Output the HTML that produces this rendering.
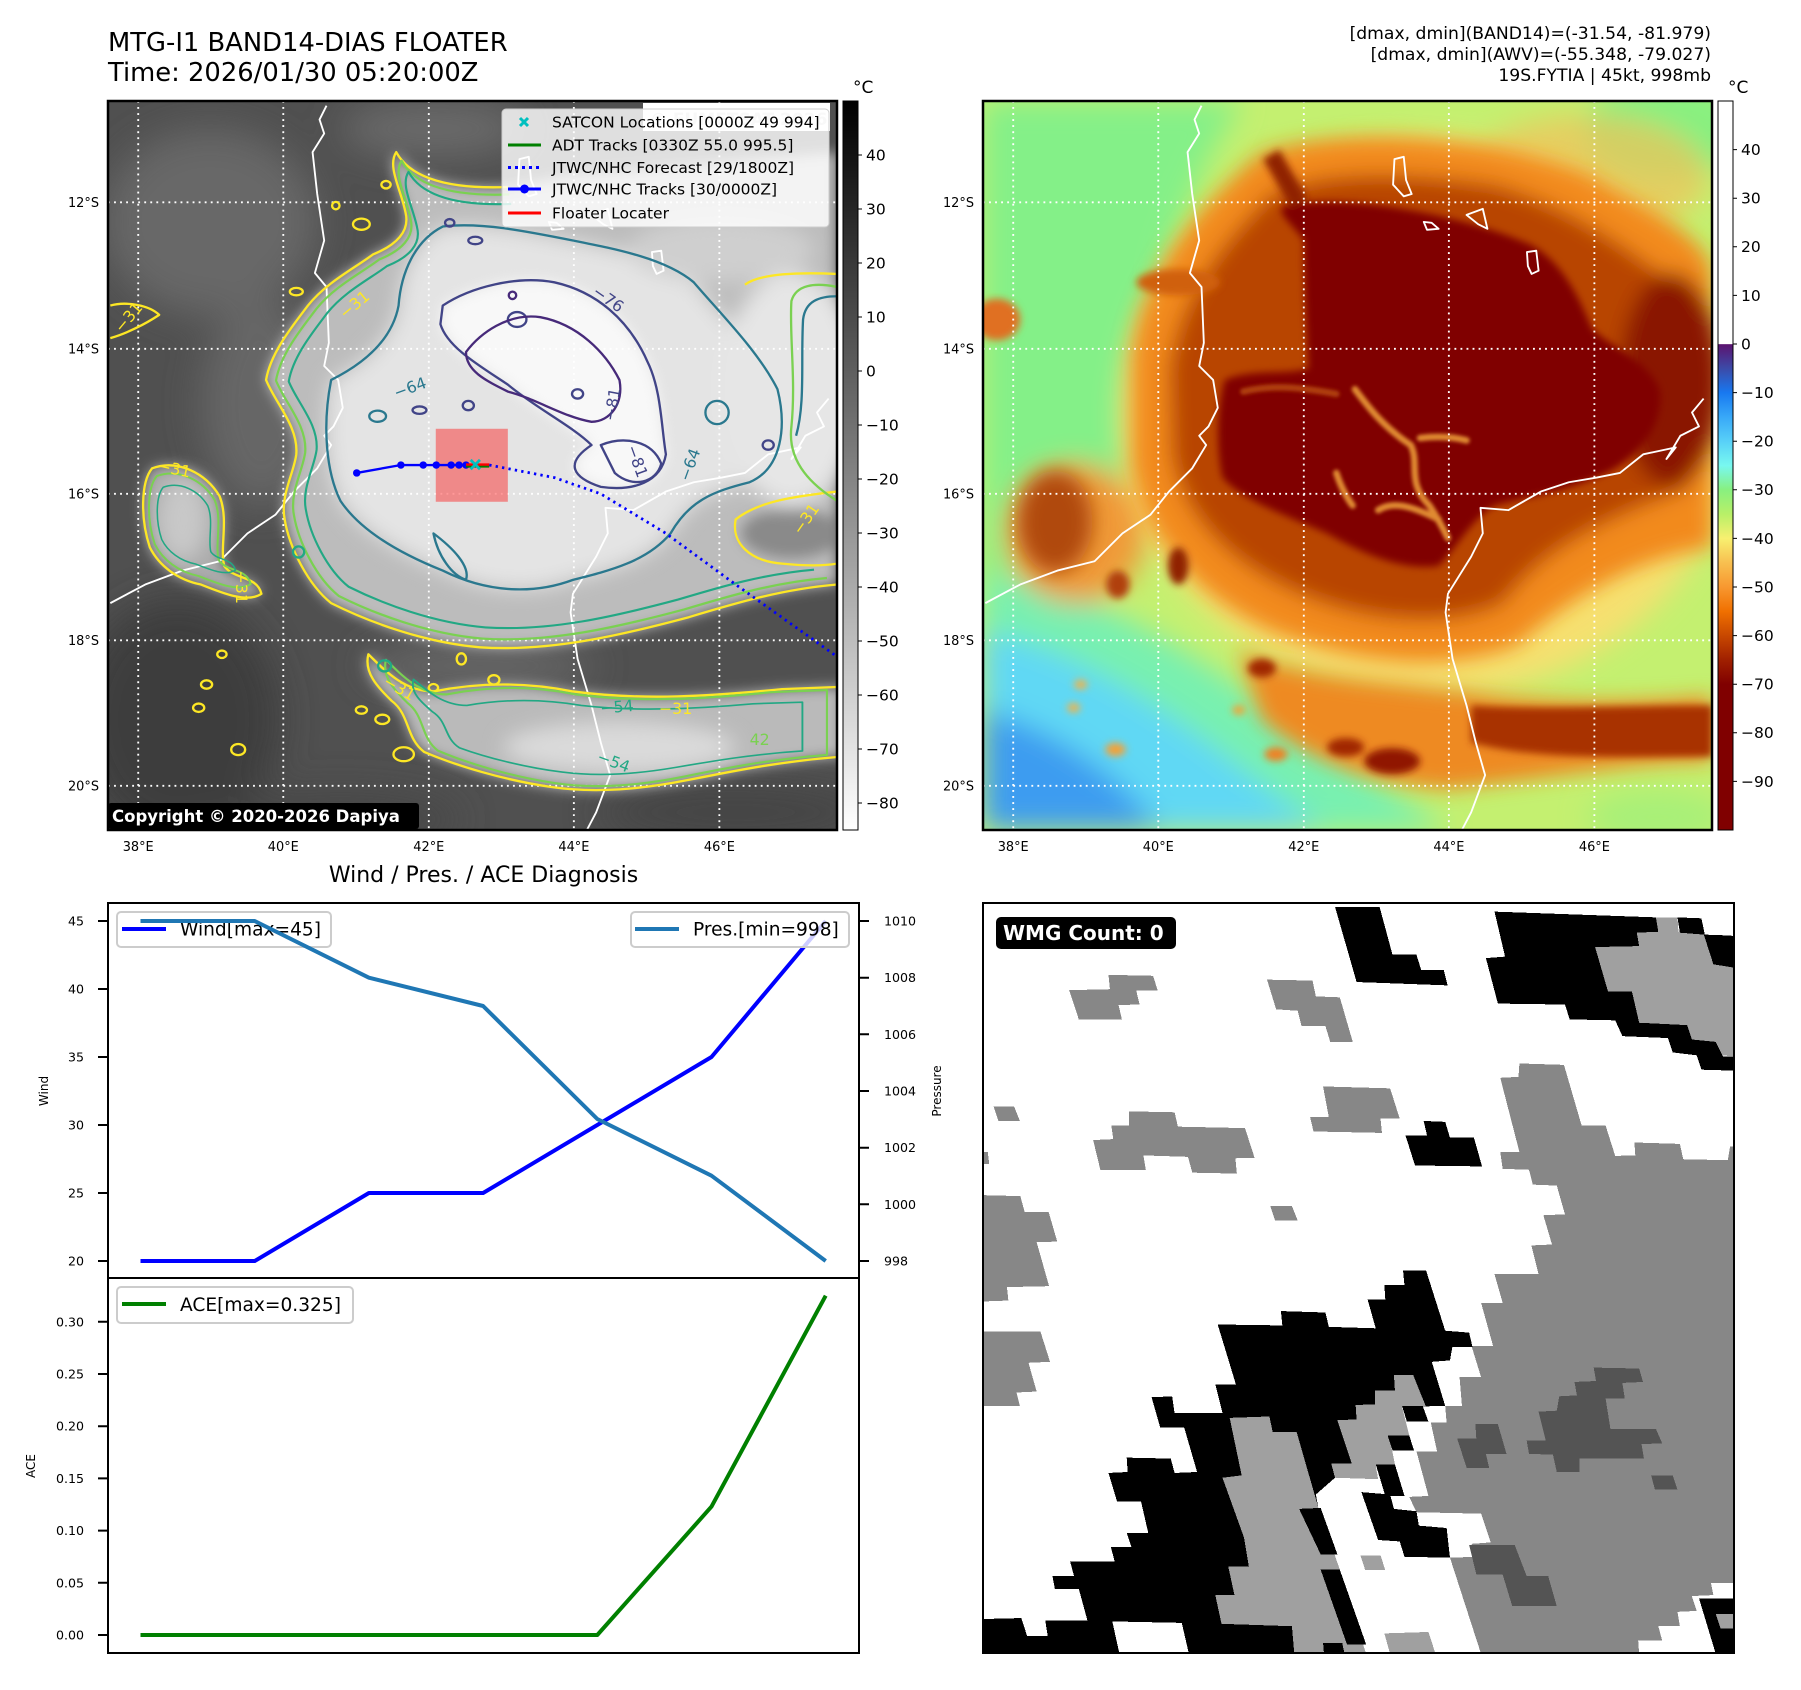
<!DOCTYPE html>
<html><head><meta charset="utf-8">
<style>
html,body{margin:0;padding:0;background:#fff;}
svg{display:block;}
text{font-family:"DejaVu Sans","Liberation Sans",sans-serif;}
</style></head>
<body>
<svg width="1801" height="1690" viewBox="0 0 1801 1690" xmlns="http://www.w3.org/2000/svg">
<defs>
 <linearGradient id="gcb" x1="0" y1="0" x2="0" y2="1">
  <stop offset="0" stop-color="#000"/><stop offset="1" stop-color="#fff"/>
 </linearGradient>
 <linearGradient id="ccb" x1="0" y1="0" x2="0" y2="1">
  <stop offset="0" stop-color="#fff"/>
  <stop offset="0.333" stop-color="#fff"/>
  <stop offset="0.334" stop-color="#5c1470"/>
  <stop offset="0.3667" stop-color="#3c4aa8"/>
  <stop offset="0.40" stop-color="#1878f0"/>
  <stop offset="0.4333" stop-color="#38a8f8"/>
  <stop offset="0.4667" stop-color="#58d0f8"/>
  <stop offset="0.50" stop-color="#78f8f0"/>
  <stop offset="0.5333" stop-color="#88f080"/>
  <stop offset="0.5667" stop-color="#b8f068"/>
  <stop offset="0.60" stop-color="#f8f070"/>
  <stop offset="0.6333" stop-color="#f8c050"/>
  <stop offset="0.6667" stop-color="#f89830"/>
  <stop offset="0.70" stop-color="#f07000"/>
  <stop offset="0.7333" stop-color="#c84800"/>
  <stop offset="0.7667" stop-color="#a02000"/>
  <stop offset="0.80" stop-color="#800000"/>
  <stop offset="1" stop-color="#800000"/>
 </linearGradient>
 <filter id="b40" filterUnits="userSpaceOnUse" x="-400" y="-400" width="2400" height="2400"><feGaussianBlur stdDeviation="40"/></filter>
 <filter id="b30" filterUnits="userSpaceOnUse" x="-400" y="-400" width="2400" height="2400"><feGaussianBlur stdDeviation="30"/></filter>
 <filter id="b22" filterUnits="userSpaceOnUse" x="-400" y="-400" width="2400" height="2400"><feGaussianBlur stdDeviation="22"/></filter>
 <filter id="b14" filterUnits="userSpaceOnUse" x="-400" y="-400" width="2400" height="2400"><feGaussianBlur stdDeviation="14"/></filter>
 <filter id="b8" filterUnits="userSpaceOnUse" x="-400" y="-400" width="2400" height="2400"><feGaussianBlur stdDeviation="8"/></filter>
 <filter id="b4" filterUnits="userSpaceOnUse" x="-400" y="-400" width="2400" height="2400"><feGaussianBlur stdDeviation="4"/></filter>
 <path id="P31" d="M620,110 C650,165 730,190 860,185 L1000,160 L1568,110 L1568,1040 C1450,1050 1350,1080 1250,1110 C1100,1150 950,1185 800,1175 C680,1165 560,1120 480,1080 C430,1040 390,960 380,900 C370,850 400,800 405,760 C410,700 360,650 340,600 C350,540 400,480 430,440 C470,390 530,360 570,330 C620,310 650,280 640,240 C630,190 600,140 620,110 Z"/>
 <path id="P31s" d="M1568,1040 C1450,1050 1350,1080 1250,1110 C1100,1150 950,1185 800,1175 C680,1165 560,1120 480,1080 C430,1040 390,960 380,900 C370,850 400,800 405,760 C410,700 360,650 340,600 C350,540 400,480 430,440 C470,390 530,360 570,330 C620,310 650,280 640,240 C630,190 600,140 620,110 C650,165 730,190 860,185"/>
 <path id="ISL" d="M95,790 C150,770 210,800 240,850 C260,900 240,960 250,1000 C270,1030 320,1020 330,1060 C300,1080 250,1060 200,1040 C150,1030 110,1000 90,960 C70,900 70,820 95,790 Z"/>
 <path id="BAND" d="M560,1190 C600,1230 640,1270 700,1270 C800,1250 900,1250 1000,1270 C1150,1290 1300,1280 1450,1265 L1580,1260 L1580,1410 C1450,1420 1350,1440 1250,1460 C1150,1480 1050,1490 950,1475 C850,1460 750,1430 680,1400 C640,1370 650,1320 610,1290 C580,1260 550,1230 560,1190 Z"/>
 <path id="P64" d="M480,600 C540,570 610,520 625,440 C630,370 660,300 720,270 C800,260 900,280 1000,300 C1100,320 1200,340 1260,390 C1320,460 1400,540 1440,620 C1460,700 1450,790 1380,820 C1300,840 1250,860 1210,930 C1160,990 1080,1010 1000,1030 C920,1060 820,1060 720,1010 C620,970 540,920 500,860 C470,800 460,700 480,600 Z"/>
 <path id="P76" d="M720,440 C780,400 880,375 960,390 C1050,410 1120,470 1160,560 C1190,620 1190,700 1200,760 C1190,820 1130,840 1060,830 C1000,810 980,780 1040,740 C1000,700 920,660 860,610 C800,570 730,530 715,480 Z"/>
 <path id="P81" d="M770,540 C800,500 860,455 930,465 C1010,480 1070,540 1100,600 C1110,650 1080,690 1040,690 C980,680 920,640 860,625 C810,600 770,580 770,540 Z"/>
 <path id="COAST1" d="M470,10 L455,40 L465,70 L440,110 L450,200 L465,300 L445,370 L470,400 L475,520 L465,570 L495,600 L505,660 L485,700 L465,720 L480,740 L450,790 L400,840 L360,890 L300,930 L240,990 L160,1010 L80,1040 L5,1080"/>
 <path id="COAST2" d="M1550,640 L1525,670 L1540,700 L1500,720 L1470,770 L1490,745 L1420,760 L1370,800 L1320,810 L1260,820 L1200,840 L1130,880 L1070,875 L1075,930 L1050,980 L1000,1060 L995,1100 L1010,1200 L1040,1300 L1060,1380 L1080,1450 L1050,1530 L1030,1568"/>
 <g id="ISLANDS">
  <path d="M885,125 L905,120 L910,170 L922,200 L905,205 L882,180 Z"/>
  <path d="M948,260 L965,262 L980,275 L955,277 Z"/>
  <path d="M1040,245 L1075,232 L1085,275 L1065,265 Z"/>
  <path d="M1170,325 L1190,322 L1195,365 L1180,372 L1172,355 Z"/>
 </g>
 <g id="GRID">
  <path d="M65,0 V1568 M377,0 V1568 M690,0 V1568 M1002,0 V1568 M1315,0 V1568 M0,218 H1568 M0,533 H1568 M0,845 H1568 M0,1160 H1568 M0,1473 H1568" stroke="#fff" stroke-width="4" stroke-dasharray="4 9" fill="none"/>
 </g>
</defs>

<!-- Header text -->
<text x="108" y="51" font-size="25.8" fill="#000">MTG-I1 BAND14-DIAS FLOATER</text>
<text x="108" y="81" font-size="25.8" fill="#000">Time: 2026/01/30 05:20:00Z</text>
<text x="1711" y="39" font-size="17.2" text-anchor="end">[dmax, dmin](BAND14)=(-31.54, -81.979)</text>
<text x="1711" y="60" font-size="17.2" text-anchor="end">[dmax, dmin](AWV)=(-55.348, -79.027)</text>
<text x="1711" y="81" font-size="17.2" text-anchor="end">19S.FYTIA | 45kt, 998mb</text>

<!-- LEFT MAP -->
<svg x="108" y="101" width="729" height="729" viewBox="0 0 1568 1568">
 <rect width="1568" height="1568" fill="#505050"/>
 <g filter="url(#b40)">
  <ellipse cx="220" cy="260" rx="230" ry="200" fill="#686868"/>
  <ellipse cx="330" cy="650" rx="130" ry="220" fill="#666"/>
  <ellipse cx="700" cy="60" rx="200" ry="60" fill="#6a6a6a"/>
  <ellipse cx="150" cy="1330" rx="220" ry="260" fill="#3e3e3e"/>
  <ellipse cx="500" cy="1545" rx="260" ry="60" fill="#474747"/>
  <ellipse cx="1350" cy="1530" rx="300" ry="60" fill="#444"/>
  <ellipse cx="800" cy="1215" rx="250" ry="40" fill="#6a6a6a"/>
 </g>
 <g filter="url(#b14)">
  <use href="#P31" fill="#bcbcbc"/>
  <use href="#ISL" fill="#ababab"/>
  <use href="#BAND" fill="#bababa"/>
  <ellipse cx="1470" cy="930" rx="110" ry="55" fill="#8a8a8a"/>
 </g>
 <g filter="url(#b22)">
  <use href="#P64" fill="#e4e4e4"/>
  <ellipse cx="1470" cy="620" rx="150" ry="250" fill="#e6e6e6"/>
  <ellipse cx="1320" cy="320" rx="200" ry="70" fill="#cfcfcf"/>
  <ellipse cx="1100" cy="1390" rx="250" ry="55" fill="#dadada"/>
  <ellipse cx="160" cy="900" rx="55" ry="90" fill="#c8c8c8"/>
 </g>
 <g filter="url(#b14)">
  <use href="#P76" fill="#f8f8f8"/>
 </g>
 <use href="#GRID"/>
 <g fill="none" stroke="#fff" stroke-width="4" stroke-linejoin="round">
  <use href="#COAST1"/><use href="#COAST2"/><use href="#ISLANDS"/>
 </g>
 <!-- contours -->
 <g fill="none" stroke-width="5" stroke-linejoin="round">
  <g stroke="#fde725">
   <use href="#P31s"/><use href="#ISL"/><use href="#BAND"/>
   <path d="M1568,372 C1480,368 1400,372 1370,395"/>
   <path d="M1568,840 C1480,850 1400,860 1350,900 C1340,950 1380,990 1450,995 C1500,1000 1540,1000 1568,995"/>
   <ellipse cx="245" cy="1190" rx="10" ry="8"/><ellipse cx="212" cy="1255" rx="12" ry="9"/>
   <ellipse cx="195" cy="1305" rx="12" ry="9"/><ellipse cx="280" cy="1395" rx="15" ry="12"/>
   <ellipse cx="545" cy="1310" rx="12" ry="8"/><ellipse cx="590" cy="1330" rx="15" ry="10"/>
   <ellipse cx="636" cy="1405" rx="22" ry="15"/><ellipse cx="700" cy="1262" rx="10" ry="8"/>
   <ellipse cx="760" cy="1200" rx="10" ry="12"/><ellipse cx="830" cy="1245" rx="12" ry="10"/>
   <ellipse cx="598" cy="180" rx="10" ry="8"/><ellipse cx="545" cy="265" rx="18" ry="12"/>
   <ellipse cx="490" cy="225" rx="8" ry="8"/><ellipse cx="405" cy="410" rx="14" ry="8"/>
   <path d="M5,440 C40,430 90,440 110,460 C80,480 40,500 5,510"/>
  </g>
  <g stroke="#7ad151">
   <use href="#P31s" transform="translate(950 640) scale(0.965) translate(-950 -640)"/>
   <use href="#ISL" transform="translate(165 910) scale(0.86) translate(-165 -910)"/>
   <use href="#BAND" transform="translate(1100 1360) scale(0.93) translate(-1100 -1360)"/>
   <path d="M1568,400 C1520,390 1480,395 1470,430 C1465,500 1480,600 1470,700 C1460,780 1520,830 1568,860"/>
  </g>
  <g stroke="#22a884">
   <use href="#P31s" transform="translate(950 640) scale(0.92) translate(-950 -640)"/>
   <use href="#ISL" transform="translate(165 910) scale(0.66) translate(-165 -910)"/>
   <use href="#BAND" transform="translate(1100 1370) scale(0.82 0.7) translate(-1100 -1370)"/>
   <ellipse cx="595" cy="1215" rx="14" ry="12"/>
   <ellipse cx="410" cy="970" rx="12" ry="12"/>
  </g>
  <g stroke="#2a788e">
   <use href="#P64"/>
   <path d="M1568,420 C1530,420 1500,430 1495,470 C1490,560 1500,650 1480,720"/>
   <ellipse cx="580" cy="678" rx="18" ry="12"/>
   <ellipse cx="1310" cy="670" rx="25" ry="25"/>
   <path d="M700,930 C740,960 780,1000 770,1030 C740,1020 710,980 700,930 Z"/>
  </g>
  <g stroke="#414487">
   <use href="#P76"/>
   <path d="M1060,740 C1110,720 1170,730 1190,780 C1180,820 1130,835 1090,800 Z"/>
   <ellipse cx="735" cy="262" rx="10" ry="8"/><ellipse cx="790" cy="300" rx="15" ry="8"/>
   <ellipse cx="880" cy="470" rx="20" ry="16"/>
   <ellipse cx="670" cy="665" rx="15" ry="8"/><ellipse cx="775" cy="655" rx="12" ry="10"/>
   <ellipse cx="1010" cy="630" rx="12" ry="10"/>
   <ellipse cx="1420" cy="740" rx="12" ry="10"/>
  </g>
  <g stroke="#472a7a">
   <use href="#P81"/>
   <ellipse cx="870" cy="418" rx="8" ry="8"/>
  </g>
 </g>
 <!-- contour labels -->
 <g font-size="34">
  <text x="510" y="470" fill="#fde725" transform="rotate(-40 510 470)">−31</text>
  <text x="30" y="500" fill="#fde725" transform="rotate(-50 30 500)">−31</text>
  <text x="105" y="795" fill="#fde725" transform="rotate(12 105 795)">−31</text>
  <text x="1490" y="935" fill="#fde725" transform="rotate(-55 1490 935)">−31</text>
  <text x="590" y="1255" fill="#fde725" transform="rotate(30 590 1255)">−31</text>
  <text x="1185" y="1318" fill="#fde725">−31</text>
  <text x="275" y="1010" fill="#fde725" transform="rotate(90 275 1010)">−31</text>
  <text x="1040" y="415" fill="#414487" transform="rotate(35 1040 415)">−76</text>
  <text x="1090" y="690" fill="#414487" transform="rotate(-80 1090 690)">−81</text>
  <text x="1115" y="745" fill="#414487" transform="rotate(70 1115 745)">−81</text>
  <text x="620" y="640" fill="#2a788e" transform="rotate(-20 620 640)">−64</text>
  <text x="1250" y="820" fill="#2a788e" transform="rotate(-70 1250 820)">−64</text>
  <text x="1060" y="1318" fill="#22a884" transform="rotate(-5 1060 1318)">−54</text>
  <text x="1050" y="1420" fill="#22a884" transform="rotate(20 1050 1420)">−54</text>
  <text x="1380" y="1385" fill="#7ad151">42</text>
 </g>
 <!-- track -->
 <rect x="705" y="705" width="155" height="157" fill="#ff0000" fill-opacity="0.4"/>
 <polyline points="820,783 960,810 1060,845 1200,930 1350,1040 1568,1195" fill="none" stroke="#0000ff" stroke-width="6" stroke-dasharray="5 9"/>
 <polyline points="535,800 630,783 678,783 706,783 738,783 755,783 770,783" fill="none" stroke="#0000ff" stroke-width="5"/>
 <g fill="#0000ff">
  <circle cx="535" cy="800" r="8"/><circle cx="630" cy="783" r="8"/><circle cx="678" cy="783" r="8"/>
  <circle cx="706" cy="783" r="8"/><circle cx="738" cy="783" r="8"/><circle cx="755" cy="783" r="8"/><circle cx="770" cy="783" r="8"/>
 </g>
 <line x1="770" y1="786" x2="820" y2="786" stroke="#008000" stroke-width="5"/>
 <line x1="770" y1="782" x2="820" y2="782" stroke="#ff0000" stroke-width="5"/>
 <path d="M780,772 L800,792 M800,772 L780,792" stroke="#00bfbf" stroke-width="6"/>
</svg>
<rect x="108" y="101" width="729" height="729" fill="none" stroke="#000" stroke-width="2.5"/>

<!-- EUMETSAT box + legend -->
<rect x="643" y="103" width="187" height="28" fill="#fff"/>
<text x="650" y="125" font-size="17" font-weight="bold" fill="#d8d8d8">© EUMETSAT 2026</text>
<rect x="502" y="109" width="327" height="118" rx="4" fill="#fff" fill-opacity="0.82" stroke="#cccccc" stroke-width="1"/>
<path d="M520,118 L528,126 M528,118 L520,126" stroke="#00bfbf" stroke-width="3"/>
<text x="552" y="127.5" font-size="15.5">SATCON Locations [0000Z 49 994]</text>
<line x1="508" y1="145" x2="541" y2="145" stroke="#008000" stroke-width="3"/>
<text x="552" y="150.5" font-size="15.5">ADT Tracks [0330Z 55.0 995.5]</text>
<line x1="508" y1="167.5" x2="541" y2="167.5" stroke="#0000ff" stroke-width="3" stroke-dasharray="3 4"/>
<text x="552" y="173" font-size="15.5">JTWC/NHC Forecast [29/1800Z]</text>
<line x1="508" y1="189" x2="541" y2="189" stroke="#0000ff" stroke-width="3"/>
<circle cx="524.5" cy="189" r="4.5" fill="#0000ff"/>
<text x="552" y="194.5" font-size="15.5">JTWC/NHC Tracks [30/0000Z]</text>
<line x1="508" y1="213" x2="541" y2="213" stroke="#ff0000" stroke-width="3"/>
<text x="552" y="218.5" font-size="15.5">Floater Locater</text>

<!-- copyright -->
<rect x="108" y="803" width="311" height="26" rx="3" fill="#000"/>
<text x="112" y="822" font-size="16.5" font-weight="bold" fill="#fff">Copyright © 2020-2026 Dapiya</text>

<!-- map ticks -->
<g font-size="12.9" text-anchor="end">
 <text x="99" y="207">12°S</text><text x="99" y="353.4">14°S</text><text x="99" y="498.4">16°S</text>
 <text x="99" y="645">18°S</text><text x="99" y="790.4">20°S</text>
 <text x="974" y="207">12°S</text><text x="974" y="353.4">14°S</text><text x="974" y="498.4">16°S</text>
 <text x="974" y="645">18°S</text><text x="974" y="790.4">20°S</text>
</g>
<g font-size="12.9" text-anchor="middle">
 <text x="138.2" y="851">38°E</text><text x="283.3" y="851">40°E</text><text x="428.8" y="851">42°E</text>
 <text x="573.9" y="851">44°E</text><text x="719.4" y="851">46°E</text>
 <text x="1013.2" y="851">38°E</text><text x="1158.3" y="851">40°E</text><text x="1303.8" y="851">42°E</text>
 <text x="1448.9" y="851">44°E</text><text x="1594.4" y="851">46°E</text>
</g>

<!-- left colorbar -->
<rect x="843" y="101" width="15" height="729" fill="url(#gcb)" stroke="#000" stroke-width="1"/>
<text x="853" y="93" font-size="17">°C</text>
<g font-size="15.5">
 <text x="866" y="160.5">40</text><text x="866" y="214.5">30</text><text x="866" y="268.5">20</text>
 <text x="866" y="322.5">10</text><text x="866" y="376.5">0</text><text x="866" y="430.5">−10</text>
 <text x="866" y="484.5">−20</text><text x="866" y="538.5">−30</text><text x="866" y="592.5">−40</text>
 <text x="866" y="646.5">−50</text><text x="866" y="700.5">−60</text><text x="866" y="754.5">−70</text>
 <text x="866" y="808.5">−80</text>
</g>
<path d="M858,155h4M858,209h4M858,263h4M858,317h4M858,371h4M858,425h4M858,479h4M858,533h4M858,587h4M858,641h4M858,695h4M858,749h4M858,803h4" stroke="#000" stroke-width="1"/>

<!-- RIGHT MAP -->
<svg x="983" y="101" width="729" height="729" viewBox="0 0 1568 1568">
 <rect width="1568" height="1568" fill="#c4f070"/>
 <g filter="url(#b30)">
  <path d="M0,0 L560,0 C480,120 420,250 380,400 C360,550 360,700 330,800 C250,900 150,980 0,1040 Z" fill="#84f088"/>
  <ellipse cx="1470" cy="60" rx="180" ry="110" fill="#88f080"/>
  <path d="M0,1020 C250,1040 500,1220 700,1370 C850,1470 950,1530 1000,1568 L0,1568 Z" fill="#78f0b0"/>
  <path d="M0,1140 C200,1180 400,1310 560,1440 C650,1510 700,1545 740,1568 L0,1568 Z" fill="#60d8f4"/>
  <path d="M0,1310 C150,1350 300,1450 380,1568 L0,1568 Z" fill="#3c9cf0"/>
  <ellipse cx="1450" cy="1540" rx="150" ry="60" fill="#a8f078"/>
  <ellipse cx="960" cy="680" rx="660" ry="600" fill="#f6e070"/>
  <ellipse cx="1300" cy="160" rx="260" ry="130" fill="#f4c058" opacity="0.7"/>
  <ellipse cx="200" cy="930" rx="150" ry="150" fill="#f09a38"/>
 </g>
 <g filter="url(#b22)">
  <path d="M320,560 C330,380 470,220 600,110 C800,50 1100,80 1300,160 C1430,240 1568,290 1568,380 L1568,960 C1400,980 1250,1080 1150,1170 C1000,1230 800,1210 620,1140 C470,1070 350,950 320,780 Z" fill="#f28a1e"/>
  <path d="M550,1180 C700,1250 900,1250 1100,1280 C1300,1300 1450,1290 1568,1280 L1568,1420 C1400,1420 1200,1460 1000,1480 C850,1470 700,1420 600,1330 Z" fill="#ee8a22"/>
  <path d="M400,580 C420,420 520,300 620,200 C720,150 900,150 1100,180 C1280,230 1400,330 1500,400 C1568,440 1568,820 1500,840 C1400,880 1220,940 1120,1080 C1000,1140 820,1120 680,1060 C540,1000 430,900 405,760 Z" fill="#b84400"/>
  <ellipse cx="1480" cy="600" rx="110" ry="230" fill="#8a1800"/>
  <ellipse cx="155" cy="905" rx="80" ry="110" fill="#b04810"/>
 </g>
 <g filter="url(#b8)">
  <path d="M640,230 C700,210 800,215 900,232 C1000,248 1100,275 1180,310 C1250,350 1285,430 1310,490 C1360,535 1430,560 1455,620 C1465,690 1420,750 1360,790 C1280,835 1180,850 1100,870 C1050,900 1020,960 980,1000 C900,1010 820,975 740,930 C650,890 560,860 515,810 C500,740 505,650 520,600 C580,575 650,590 700,575 C695,480 690,380 690,300 C670,270 645,255 640,230 Z" fill="#800000"/>
  <path d="M620,115 L680,220" stroke="#902000" stroke-width="40" fill="none"/>
  <path d="M1050,1300 C1200,1310 1400,1300 1568,1300 L1568,1410 C1400,1410 1200,1420 1050,1380 Z" fill="#a83000"/>
  <ellipse cx="880" cy="1420" rx="60" ry="28" fill="#901800"/>
  <ellipse cx="780" cy="1390" rx="40" ry="20" fill="#a02800"/>
  <ellipse cx="600" cy="1220" rx="30" ry="20" fill="#a02800"/>
  <ellipse cx="420" cy="1000" rx="22" ry="40" fill="#902000"/>
  <ellipse cx="290" cy="1040" rx="25" ry="30" fill="#b04010"/>
  <ellipse cx="30" cy="470" rx="50" ry="45" fill="#e07020"/>
  <ellipse cx="420" cy="390" rx="90" ry="28" fill="#d06010"/>
  <ellipse cx="210" cy="1255" rx="14" ry="10" fill="#f8b040"/>
  <ellipse cx="195" cy="1305" rx="14" ry="10" fill="#f8b040"/>
  <ellipse cx="285" cy="1395" rx="22" ry="14" fill="#f8a030"/>
  <ellipse cx="550" cy="1310" rx="14" ry="10" fill="#f8a030"/>
  <ellipse cx="630" cy="1405" rx="25" ry="15" fill="#f08020"/>
 </g>
 <g filter="url(#b4)" fill="none" stroke="#e08a30" stroke-width="14" stroke-linecap="round">
  <path d="M800,620 C830,660 860,700 920,740 C940,780 910,820 960,870 C980,900 990,920 1000,940"/>
  <path d="M940,725 C980,720 1010,722 1040,730"/>
  <path d="M850,880 C880,860 920,870 980,900"/>
  <path d="M760,800 C770,830 780,850 795,870"/>
  <path d="M560,625 C620,610 680,615 760,630" stroke="#b04010"/>
 </g>
 <use href="#GRID"/>
 <g fill="none" stroke="#fff" stroke-width="4" stroke-linejoin="round">
  <use href="#COAST1"/><use href="#COAST2"/><use href="#ISLANDS"/>
 </g>
</svg>
<rect x="983" y="101" width="729" height="729" fill="none" stroke="#000" stroke-width="2.5"/>

<!-- right colorbar -->
<rect x="1718" y="101" width="15" height="729" fill="url(#ccb)" stroke="#000" stroke-width="1"/>
<text x="1728" y="93" font-size="17">°C</text>
<g font-size="15.5">
 <text x="1741" y="155">40</text><text x="1741" y="203.6">30</text><text x="1741" y="252.2">20</text>
 <text x="1741" y="300.8">10</text><text x="1741" y="349.4">0</text><text x="1741" y="398">−10</text>
 <text x="1741" y="446.6">−20</text><text x="1741" y="495.2">−30</text><text x="1741" y="543.8">−40</text>
 <text x="1741" y="592.4">−50</text><text x="1741" y="641">−60</text><text x="1741" y="689.6">−70</text>
 <text x="1741" y="738.2">−80</text><text x="1741" y="786.8">−90</text>
</g>
<path d="M1733,149.6h4M1733,198.2h4M1733,246.8h4M1733,295.4h4M1733,344h4M1733,392.6h4M1733,441.2h4M1733,489.8h4M1733,538.4h4M1733,587h4M1733,635.6h4M1733,684.2h4M1733,732.8h4M1733,781.4h4" stroke="#000" stroke-width="1"/>

<!-- BOTTOM LEFT CHART -->
<text x="483.5" y="882" font-size="22" text-anchor="middle">Wind / Pres. / ACE Diagnosis</text>
<polyline points="140.5,1261 254.7,1261 368.9,1193 483.1,1193 597.3,1125 711.5,1057 825.7,921" fill="none" stroke="#0000ff" stroke-width="4" stroke-linejoin="round"/>
<rect x="117" y="912" width="214" height="35" rx="4" fill="#fff" fill-opacity="0.8" stroke="#cccccc" stroke-width="2"/>
<line x1="122" y1="929" x2="166" y2="929" stroke="#0000ff" stroke-width="4"/>
<text x="180" y="935.5" font-size="18.6">Wind[max=45]</text>
<polyline points="140.5,921 254.7,921 368.9,977.7 483.1,1006 597.3,1119 711.5,1175.7 825.7,1261" fill="none" stroke="#1f77b4" stroke-width="4" stroke-linejoin="round"/>
<rect x="631" y="912" width="218" height="35" rx="4" fill="#fff" fill-opacity="0.8" stroke="#cccccc" stroke-width="2"/>
<line x1="635" y1="929" x2="679" y2="929" stroke="#1f77b4" stroke-width="4"/>
<text x="693" y="935.5" font-size="18.6">Pres.[min=998]</text>
<rect x="108" y="903" width="751" height="375" fill="none" stroke="#000" stroke-width="2"/>
<polyline points="140.5,1635 254.7,1635 368.9,1635 483.1,1635 597.3,1635 711.5,1506.6 825.7,1295.7" fill="none" stroke="#008000" stroke-width="4" stroke-linejoin="round"/>
<rect x="117" y="1287" width="236" height="36" rx="4" fill="#fff" fill-opacity="0.8" stroke="#cccccc" stroke-width="2"/>
<line x1="122" y1="1304" x2="166" y2="1304" stroke="#008000" stroke-width="4"/>
<text x="180" y="1311" font-size="18.6">ACE[max=0.325]</text>
<rect x="108" y="1278" width="751" height="375" fill="none" stroke="#000" stroke-width="2"/>
<path d="M98,921h10M98,989h10M98,1057h10M98,1125h10M98,1193h10M98,1261h10 M859,921h10M859,977.7h10M859,1034.3h10M859,1091h10M859,1147.7h10M859,1204.3h10M859,1261h10 M98,1321.8h10M98,1374h10M98,1426.2h10M98,1478.4h10M98,1530.6h10M98,1582.8h10M98,1635h10" stroke="#000" stroke-width="2"/>
<g font-size="12.6" text-anchor="end">
 <text x="84" y="925.5">45</text><text x="84" y="993.5">40</text><text x="84" y="1061.5">35</text>
 <text x="84" y="1129.5">30</text><text x="84" y="1197.5">25</text><text x="84" y="1265.5">20</text>
 <text x="84" y="1326.3">0.30</text><text x="84" y="1378.5">0.25</text><text x="84" y="1430.7">0.20</text>
 <text x="84" y="1482.9">0.15</text><text x="84" y="1535.1">0.10</text><text x="84" y="1587.3">0.05</text>
 <text x="84" y="1639.5">0.00</text>
</g>
<g font-size="12.6">
 <text x="884" y="925.5">1010</text><text x="884" y="982.2">1008</text><text x="884" y="1038.8">1006</text>
 <text x="884" y="1095.5">1004</text><text x="884" y="1152.2">1002</text><text x="884" y="1208.8">1000</text>
 <text x="884" y="1265.5">998</text>
</g>
<text font-size="12" text-anchor="middle" transform="translate(48 1091) rotate(-90)">Wind</text>
<text font-size="12" text-anchor="middle" transform="translate(941 1091) rotate(-90)">Pressure</text>
<text font-size="12" text-anchor="middle" transform="translate(35 1466) rotate(-90)">ACE</text>

<!-- BOTTOM RIGHT -->
<svg x="983" y="903" width="751" height="751" viewBox="0 0 1568 1568" shape-rendering="crispEdges">
 <rect width="1568" height="1568" fill="#fff"/>
 <polygon fill="#878787" points="1080,365 1118,363 1120,335 1213,338 1250,465 1300,465 1320,528 1362,527 1360,500 1455,503 1462,535 1555,537 1560,508 1568,508 1568,1420 1520,1420 1525,1445 1480,1447 1490,1478 1450,1480 1455,1510 1410,1510 1418,1540 1368,1540 1370,1568 1040,1568 975,1367 1030,1365 1020,1338 1060,1335 1040,1275 905,1272 890,1240 930,1238 905,1145 948,1145 935,1085 968,1085 965,1050 1000,1050 995,990 1040,990 1020,925 1065,925 1040,835 1085,835 1068,775 1160,775 1145,715 1188,713 1170,652 1215,650 1198,590 1148,588 1140,557 1085,555 1080,520 1120,520"/>
 <polygon fill="#a0a0a0" points="1400,30 1450,30 1452,60 1505,65 1525,128 1568,130 1568,320 1540,318 1530,290 1480,285 1470,255 1370,250 1355,185 1305,185 1278,92 1370,90 1365,62 1410,60"/>
 <polygon fill="#000" points="1068,18 1405,30 1410,60 1365,62 1370,90 1278,92 1305,185 1355,185 1370,250 1470,255 1480,285 1530,290 1545,320 1568,320 1568,350 1500,348 1490,318 1440,312 1430,282 1335,278 1320,245 1225,243 1215,212 1075,210 1050,115 1090,112"/>
 <polygon fill="#000" points="1450,30 1500,32 1507,66 1562,68 1568,70 1568,135 1525,128 1505,66 1455,62"/>
 <polygon fill="#000" points="735,8 828,8 855,108 905,108 915,140 962,140 970,172 780,165"/>
 <g fill="#878787">
  <polygon points="180,182 265,180 262,150 355,152 365,183 320,183 327,212 283,213 290,243 200,243"/>
  <polygon points="593,160 688,162 695,195 745,197 772,290 725,290 715,257 665,257 657,225 612,222"/>
  <polygon points="22,425 65,425 77,455 32,455"/>
  <polygon points="230,495 272,493 268,465 305,465 305,435 400,437 407,467 547,470 567,532 527,533 530,565 437,563 428,530 335,527 340,558 245,557"/>
  <polygon points="710,383 850,387 870,450 830,450 833,480 690,477 683,447 722,447"/>
  <polygon points="600,633 645,633 657,663 610,663"/>
  <polygon points="0,610 78,612 87,645 137,645 155,707 112,708 138,800 50,802 53,830 0,832"/>
  <polygon points="0,520 10,520 13,545 0,545"/>
  <polygon points="0,895 120,895 140,958 95,960 112,1020 70,1022 77,1050 0,1050"/>
 </g>
 <polygon fill="#000" points="920,455 965,457 975,490 1025,490 1042,550 902,548 882,485 927,485"/>
 <polygon fill="#000" points="490,880 625,882 622,852 715,855 722,885 820,888 803,828 840,828 838,798 880,798 877,767 925,767 965,893 1015,897 1022,927 980,927 975,955 937,958 965,1050 875,1052 890,1112 848,1112 860,1172 820,1175 825,1203 735,1200 727,1170 770,1170 740,1080 655,1105 605,1105 598,1072 515,1075 540,1195 500,1200 545,1325 555,1385 512,1385 525,1445 485,1445 498,1505 645,1510 650,1568 0,1568 0,1495 80,1493 92,1530 135,1530 130,1498 218,1498 200,1432 150,1432 145,1405 190,1405 182,1375 275,1375 267,1345 310,1345 300,1315 345,1315 330,1250 280,1250 262,1190 302,1188 300,1158 392,1160 400,1190 447,1188 420,1095 370,1095 352,1032 395,1030 400,1065 500,1065 485,1005 528,1005"/>
 <polygon fill="#a0a0a0" points="515,1075 598,1072 605,1105 655,1105 700,1262 745,1392 800,1568 650,1568 645,1510 498,1505 485,1445 525,1445 512,1385 555,1385 545,1325 500,1200 540,1195"/>
 <polygon fill="#a0a0a0" points="818,1018 860,1018 858,985 898,985 925,1052 875,1052 890,1112 848,1112 860,1172 820,1175 825,1203 735,1200 727,1170 770,1170 740,1080 780,1078 778,1048 818,1047"/>
 <g fill="#000">
  <polygon points="655,1105 740,1080 770,1170 727,1170 735,1200 695,1235 700,1262"/>
  <polygon points="660,1265 705,1263 740,1360 705,1360"/>
  <polygon points="705,1392 745,1392 800,1548 760,1548"/>
  <polygon points="790,1230 850,1235 858,1265 905,1270 910,1300 968,1305 975,1367 880,1365 870,1333 825,1330"/>
  <polygon points="845,1112 890,1112 900,1143 855,1143"/>
  <polygon points="875,1050 918,1050 930,1083 885,1083"/>
  <polygon points="820,1172 860,1172 880,1238 840,1238"/>
  <polygon points="710,1545 750,1545 755,1568 712,1568"/>
 </g>
 <g fill="#a0a0a0">
  <polygon points="788,1362 830,1362 840,1393 798,1393"/>
  <polygon points="838,1525 930,1522 945,1568 850,1568"/>
 </g>
 <g fill="#545454">
  <polygon points="1275,970 1370,972 1378,1000 1335,1002 1340,1035 1300,1035 1310,1098 1405,1098 1418,1128 1375,1130 1380,1160 1245,1160 1245,1188 1198,1188 1190,1152 1140,1150 1135,1122 1175,1122 1160,1062 1198,1060 1203,1030 1240,1028 1235,1000 1280,998"/>
  <polygon points="990,1118 1030,1118 1028,1088 1075,1088 1093,1150 1050,1150 1057,1180 1010,1180"/>
  <polygon points="1395,1195 1440,1195 1450,1225 1403,1225"/>
  <polygon points="1015,1340 1065,1340 1110,1340 1135,1405 1180,1405 1198,1468 1105,1468 1085,1402 1030,1402"/>
 </g>
 <polygon fill="#fff" points="270,1500 415,1503 430,1568 285,1568"/>
 <polygon fill="#fff" points="1370,1568 1368,1540 1418,1540 1410,1510 1455,1510 1450,1480 1490,1478 1480,1447 1525,1445 1520,1420 1568,1420 1568,1452 1495,1452 1530,1568"/>
 <polygon fill="#000" points="1495,1452 1568,1452 1568,1568 1530,1568"/>
 <polygon fill="#a0a0a0" points="1530,1485 1568,1485 1568,1515 1540,1515"/>
</svg>
<rect x="983" y="903" width="751" height="750" fill="none" stroke="#000" stroke-width="2"/>
<rect x="996" y="917" width="180" height="32" rx="5" fill="#000"/>
<text x="1003" y="940" font-size="20" font-weight="bold" fill="#fff">WMG Count: 0</text>
</svg>
</body>
</html>
